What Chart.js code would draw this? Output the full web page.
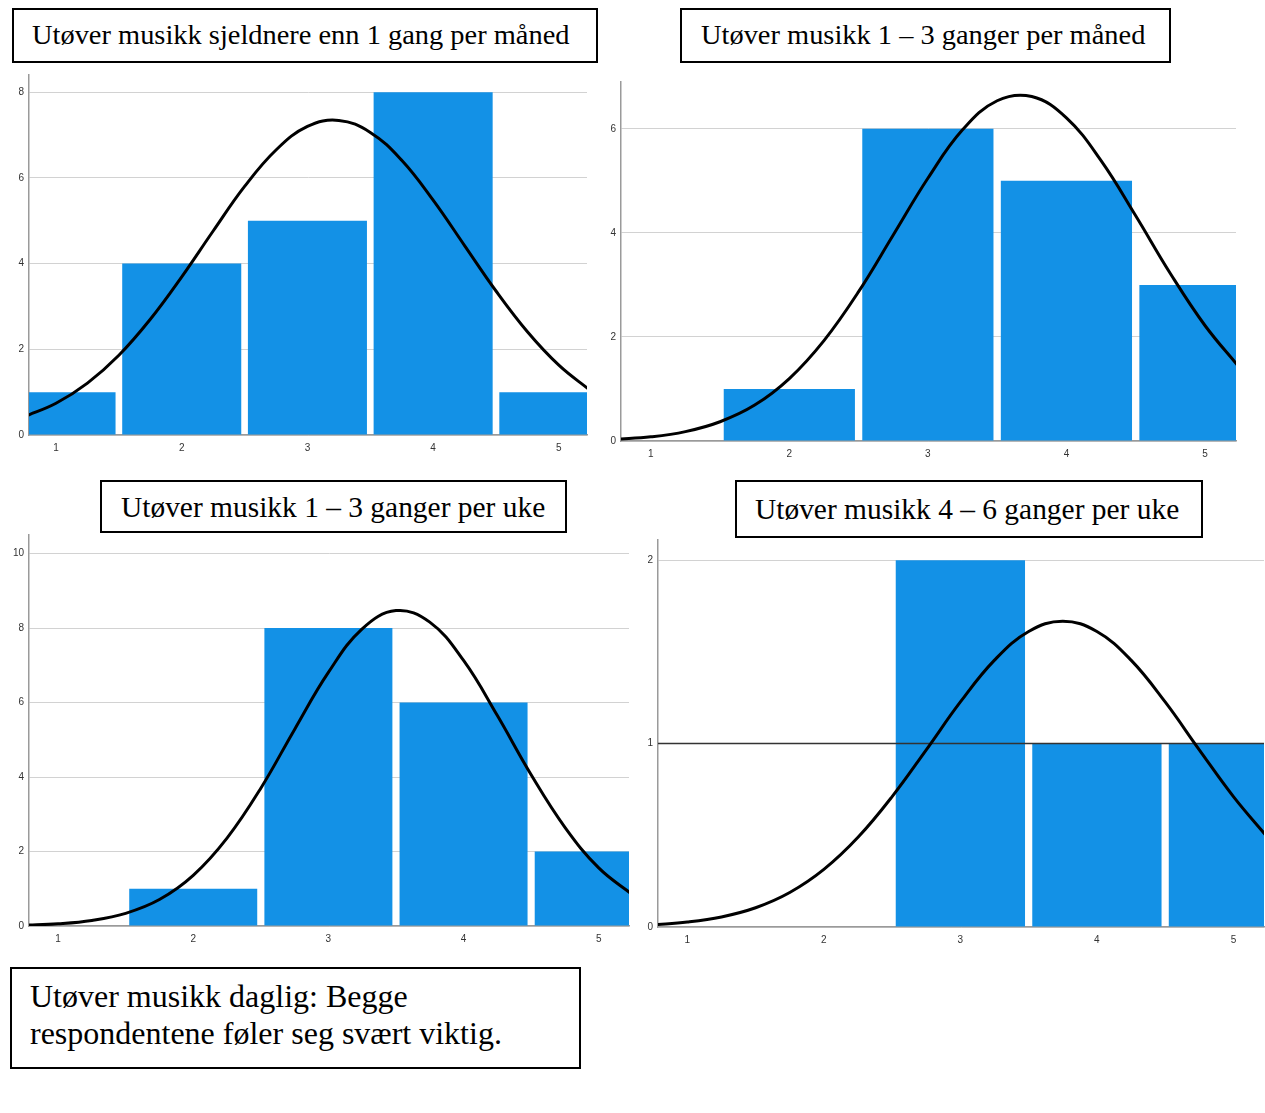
<!DOCTYPE html>
<html>
<head>
<meta charset="utf-8">
<script src="https://cdn.jsdelivr.net/npm/chart.js@4.4.1/dist/chart.umd.min.js"></script>
<style>
  body { margin: 0; background: #fff; width: 1265px; height: 1113px; position: relative; overflow: hidden; }
  .box { position: absolute; border: 2px solid #000; box-sizing: border-box; }
  .txt { position: absolute; font-family: 'Liberation Serif', 'Times New Roman', serif; font-size: 28px; line-height: 1;
         white-space: nowrap; transform-origin: 0 0; transform: scaleX(1.015); color: #000; }
  .wide { font-size: 29px; }
  .big { font-size: 32px; transform: none; }
  canvas { position: absolute; }
</style>
</head>
<body>

<div class="box" style="left:12px;top:8px;width:586px;height:55px"></div>
<div class="txt" style="left:32px;top:21px">Utøver musikk sjeldnere enn 1 gang per måned</div>

<div class="box" style="left:680px;top:8px;width:491px;height:55px"></div>
<div class="txt" style="left:701px;top:21px">Utøver musikk 1 – 3 ganger per måned</div>

<div class="box" style="left:100px;top:480px;width:467px;height:53px"></div>
<div class="txt wide" style="left:121px;top:493px">Utøver musikk 1 – 3 ganger per uke</div>

<div class="box" style="left:735px;top:480px;width:468px;height:58px"></div>
<div class="txt wide" style="left:755px;top:495px">Utøver musikk 4 – 6 ganger per uke</div>

<div class="box" style="left:10px;top:967px;width:571px;height:102px"></div>
<div class="txt big" style="left:30px;top:980px">Utøver musikk daglig: Begge</div>
<div class="txt big" style="left:30px;top:1017px">respondentene føler seg svært viktig.</div>

<canvas id="c1" width="590" height="390" style="left:0px;top:70px"></canvas>
<canvas id="c2" width="647" height="389" style="left:592px;top:77px"></canvas>
<canvas id="c3" width="632" height="421" style="left:0px;top:530px"></canvas>
<canvas id="c4" width="636" height="417" style="left:629px;top:535px"></canvas>

<script>
// categories (answer values 1..5)
const categories = [1, 2, 3, 4, 5];

// frequencies per group
const countsRare = [1, 4, 5, 8, 1];
const countsMonthly = [0, 1, 6, 5, 3];
const countsWeekly = [0, 1, 8, 6, 2];
const countsOften = [0, 0, 2, 1, 1];

// normal curve
const curveX = [0.75, 1, 1.25, 1.5, 1.75, 2, 2.25, 2.5, 2.75, 3, 3.25, 3.5, 3.75, 4, 4.25, 4.5, 4.75, 5, 5.25];
const curveRare = [0.43, 0.74, 1.21, 1.86, 2.70, 3.69, 4.76, 5.80, 6.65, 7.20, 7.34, 7.06, 6.41, 5.48, 4.42, 3.36, 2.41, 1.63, 1.04];
const curveMonthly = [0.035, 0.08, 0.18, 0.37, 0.69, 1.20, 1.93, 2.87, 3.96, 5.05, 5.98, 6.54, 6.62, 6.21, 5.39, 4.33, 3.22, 2.22, 1.41];
const curveWeekly = [0.02, 0.06, 0.15, 0.34, 0.71, 1.36, 2.36, 3.70, 5.28, 6.81, 7.98, 8.47, 8.16, 7.13, 5.65, 4.06, 2.65, 1.56, 0.84];
const curveOften = [0.012, 0.027, 0.055, 0.105, 0.188, 0.314, 0.489, 0.711, 0.966, 1.227, 1.455, 1.611, 1.667, 1.611, 1.455, 1.227, 0.966, 0.711, 0.489];

// axis ranges
const xMin = 0.785, xMax = 5.224;
const yMaxRare = 8.4, yMaxMonthly = 6.9, yMaxWeekly = 10.5, yMaxOften = 2.11;
const yStepRare = 2, yStepMonthly = 2, yStepWeekly = 2, yStepOften = 1;
const refLineOften = 1;

const BAR_COLOR = '#1391e6';
const TICK_FONT = { family: "'Liberation Sans', Arial, sans-serif", size: 10 };

function makeChart(id, counts, curve, yMax, yStep, padRight, refLine) {
    const datasets = [{
        type: 'bar',
        data: categories.map((c, i) => ({ x: c, y: counts[i] })),
        backgroundColor: BAR_COLOR,
        borderWidth: 0,
        categoryPercentage: 1,
        barPercentage: 0.947,
        order: 3
    }, {
        type: 'line',
        data: curveX.map((x, i) => ({ x: x, y: curve[i] })),
        borderColor: '#000',
        borderWidth: 3,
        pointRadius: 0,
        fill: false,
        tension: 0.4,
        order: 1
    }];

    // reference line drawn on top of the bars (only in the last panel)
    if (refLine !== undefined) {
        datasets.push({
            type: 'line',
            data: [{ x: xMin, y: refLine }, { x: xMax, y: refLine }],
            borderColor: '#333',
            borderWidth: 1.5,
            pointRadius: 0,
            fill: false,
            order: 2
        });
    }

    new Chart(document.getElementById(id).getContext('2d'), {
        type: 'bar',
        data: { datasets: datasets },
        options: {
            responsive: false,
            animation: false,
            layout: { padding: { top: 5, right: padRight, left: 0, bottom: 0 } },
            plugins: { legend: { display: false }, tooltip: { enabled: false } },
            scales: {
                x: {
                    type: 'linear',
                    min: xMin,
                    max: xMax,
                    offset: false,
                    grid: { display: false, offset: false, drawTicks: false },
                    border: { display: true, color: '#9a9a9a', width: 1.5 },
                    ticks: { stepSize: 1, includeBounds: false, padding: 7, color: '#333', font: TICK_FONT },
                    afterFit(scale) { scale.height = 25; scale.paddingLeft = 0; scale.paddingRight = 0; }
                },
                y: {
                    min: 0,
                    max: yMax,
                    grid: { color: '#d2d2d2', lineWidth: 1, drawTicks: false },
                    border: { display: true, color: '#9a9a9a', width: 1.5 },
                    ticks: { stepSize: yStep, includeBounds: false, padding: 5, color: '#333', font: TICK_FONT },
                    afterFit(scale) { scale.width = 29; scale.paddingTop = 0; scale.paddingBottom = 0; }
                }
            }
        }
    });
}

makeChart('c1', countsRare, curveRare, yMaxRare, yStepRare, 3);
makeChart('c2', countsMonthly, curveMonthly, yMaxMonthly, yStepMonthly, 3);
makeChart('c3', countsWeekly, curveWeekly, yMaxWeekly, yStepWeekly, 3);
makeChart('c4', countsOften, curveOften, yMaxOften, yStepOften, 1, refLineOften);
</script>
</body>
</html>
